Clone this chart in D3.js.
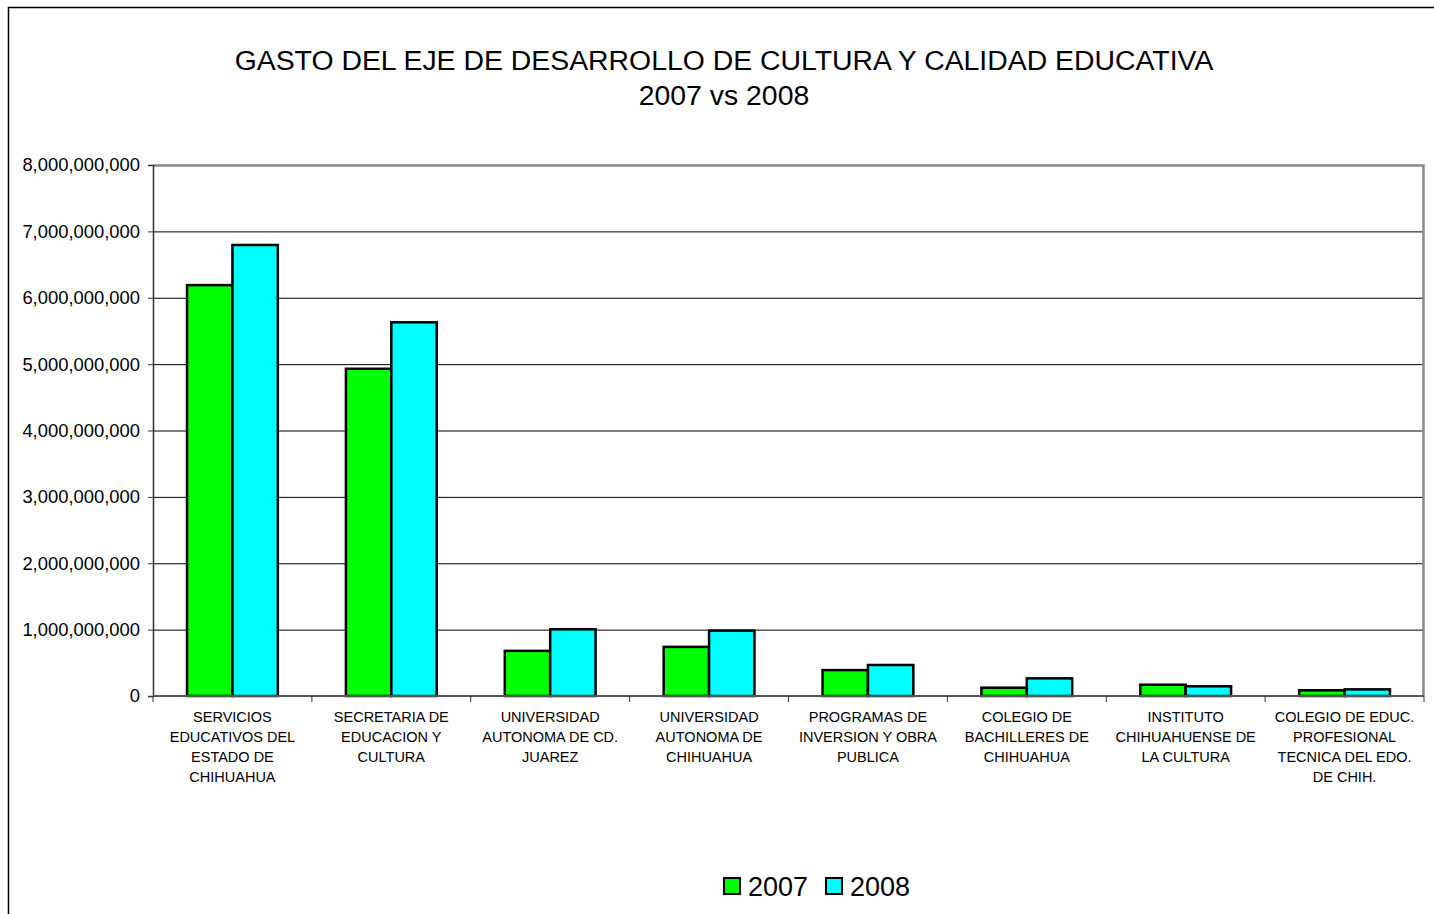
<!DOCTYPE html>
<html>
<head>
<meta charset="utf-8">
<script src="https://cdnjs.cloudflare.com/ajax/libs/d3/7.8.5/d3.min.js"></script>
<style>
  body { margin: 0; background: #fff; }
  svg { display: block; font-family: Arial, "Liberation Sans", sans-serif; }
</style>
</head>
<body>
<div id="chart"></div>
<script>
// data
var categories = [
  ["SERVICIOS", "EDUCATIVOS DEL", "ESTADO DE", "CHIHUAHUA"],
  ["SECRETARIA DE", "EDUCACION Y", "CULTURA"],
  ["UNIVERSIDAD", "AUTONOMA DE CD.", "JUAREZ"],
  ["UNIVERSIDAD", "AUTONOMA DE", "CHIHUAHUA"],
  ["PROGRAMAS DE", "INVERSION Y OBRA", "PUBLICA"],
  ["COLEGIO DE", "BACHILLERES DE", "CHIHUAHUA"],
  ["INSTITUTO", "CHIHUAHUENSE DE", "LA CULTURA"],
  ["COLEGIO DE EDUC.", "PROFESIONAL", "TECNICA DEL EDO.", "DE CHIH."]
];
var years = ["2007", "2008"];
var gasto2007 = [6190000000, 4930000000, 680000000, 740000000, 390000000, 125000000, 170000000, 86000000];
var gasto2008 = [6795000000, 5630000000, 1005000000, 985000000, 467000000, 266000000, 146000000, 100000000];
var yTicks = [0, 1e9, 2e9, 3e9, 4e9, 5e9, 6e9, 7e9, 8e9];
var colors = ["#00ff00", "#00ffff"];

var W = 1434, H = 914;
var svg = d3.select("#chart").append("svg").attr("width", W).attr("height", H);

// outer frame
svg.append("rect").attr("x", 8.5).attr("y", 7.5).attr("width", W).attr("height", H)
  .attr("fill", "none").attr("stroke", "#000").attr("stroke-width", 1.5);

var margin = {top: 165, right: 10, bottom: 218, left: 153},
  width = 1424 - margin.left,
  height = 696 - margin.top,
  g = svg.append("g").attr("transform", "translate(" + margin.left + "," + margin.top + ")");

var idx = categories.map(function (d, i) { return i; });

var x0 = d3.scaleBand().domain(idx).range([0, width]).paddingInner(0);
var x1 = d3.scaleBand().domain(years).range([0, x0.bandwidth()]).paddingOuter(0.75);
var y = d3.scaleLinear().domain([0, 8e9]).range([height, 0]);

// gridlines
g.selectAll(".grid").data(yTicks.slice(1, -1)).enter().append("line")
  .attr("x1", 0).attr("x2", width)
  .attr("y1", function (d) { return y(d) + 0.5; })
  .attr("y2", function (d) { return y(d) + 0.5; })
  .attr("stroke", "#000").attr("stroke-width", 1);

// plot area border (top, right)
g.append("path")
  .attr("d", "M0," + (y(8e9) + 0.5) + "H" + (width - 0.5) + "V" + height)
  .attr("fill", "none").attr("stroke", "#888").attr("stroke-width", 2.5);

var rows = idx.map(function (i) {
  return [{k: "2007", v: gasto2007[i]}, {k: "2008", v: gasto2008[i]}];
});

g.selectAll(".cat").data(rows).enter().append("g")
  .attr("transform", function (d, i) { return "translate(" + x0(i) + ",0)"; })
  .selectAll("rect").data(function (d) { return d; }).enter().append("rect")
  .attr("x", function (d) { return x1(d.k); })
  .attr("width", x1.bandwidth())
  .attr("y", function (d) { return y(d.v); })
  .attr("height", function (d) { return height - y(d.v); })
  .attr("fill", function (d, i) { return colors[i]; })
  .attr("stroke", "#000").attr("stroke-width", 2.5);

// y axis
var yAxis = g.append("g")
  .call(d3.axisLeft(y).tickValues(yTicks).tickSize(5).tickPadding(8)
    .tickFormat(d3.format(",")));
yAxis.select(".domain").attr("stroke", "#333").attr("stroke-width", 1.5);
yAxis.selectAll(".tick line").attr("stroke", "#333");
yAxis.selectAll("text").attr("font-size", "18.4px").attr("fill", "#000")
  .attr("font-family", "Arial, 'Liberation Sans', sans-serif");

// x axis line and ticks at category boundaries
g.append("line").attr("x1", 0).attr("x2", width).attr("y1", height).attr("y2", height)
  .attr("stroke", "#555").attr("stroke-width", 2);
g.selectAll(".xtick").data(d3.range(categories.length + 1)).enter().append("line")
  .attr("x1", function (d) { return d * x0.step(); })
  .attr("x2", function (d) { return d * x0.step(); })
  .attr("y1", height).attr("y2", height + 6)
  .attr("stroke", "#333");

// category labels
g.selectAll(".xlab").data(categories).enter().append("text")
  .attr("x", function (d, i) { return x0(i) + x0.bandwidth() / 2; })
  .attr("y", height + 26)
  .attr("text-anchor", "middle")
  .attr("font-size", "14.5px")
  .selectAll("tspan").data(function (d) { return d; }).enter().append("tspan")
  .attr("x", function () { return this.parentNode.getAttribute("x"); })
  .attr("dy", function (d, i) { return i ? 20 : 0; })
  .text(function (d) { return d; });

// title
var title = svg.append("text").attr("x", 724).attr("text-anchor", "middle").attr("font-size", "28.4px");
title.append("tspan").attr("x", 724).attr("y", 70).text("GASTO DEL EJE DE DESARROLLO DE CULTURA Y CALIDAD EDUCATIVA");
title.append("tspan").attr("x", 724).attr("y", 105).text("2007 vs 2008");

// legend
var legend = svg.append("g").attr("transform", "translate(724,878)");
var lg = legend.selectAll("g").data(years).enter().append("g")
  .attr("transform", function (d, i) { return "translate(" + (i * 102) + ",0)"; });
lg.append("rect").attr("width", 16).attr("height", 16)
  .attr("fill", function (d, i) { return colors[i]; })
  .attr("stroke", "#000").attr("stroke-width", 2);
lg.append("text").attr("x", 24).attr("y", 18).attr("font-size", "27px").text(function (d) { return d; });
</script>
</body>
</html>
